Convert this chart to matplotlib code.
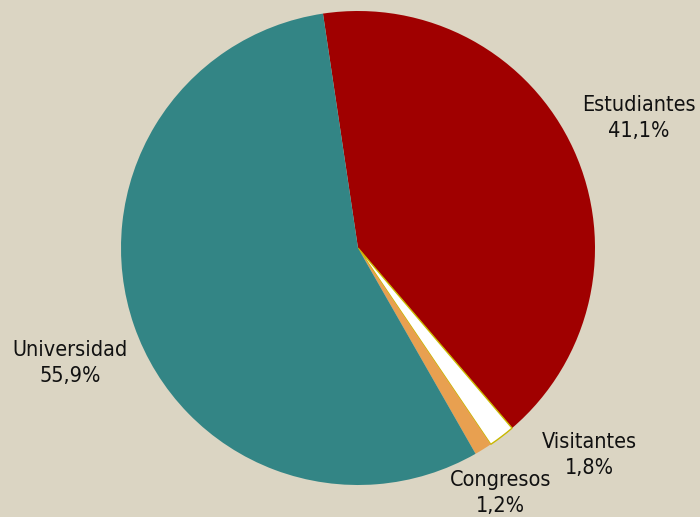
import numpy as np
import matplotlib.pyplot as plt

# --- datos ---
categorias = ['Estudiantes', 'Visitantes', 'Congresos', 'Universidad']
porcentajes = [41.1, 1.8, 1.2, 55.9]
colores = ['#A00000', '#FFFFFF', '#E8A050', '#338585']
etiquetas = ['Estudiantes\n41,1%', 'Visitantes\n1,8%', 'Congresos\n1,2%', 'Universidad\n55,9%']
# posición de cada etiqueta (en radios del pastel)
pos_etiquetas = [(1.186, 0.549), (0.975, -0.873), (0.603, -1.034), (-1.215, -0.485)]

BG = '#DBD5C3'
W, H = 700, 517
cx, cy, R = 358, 248, 237

fig = plt.figure(figsize=(W / 100, H / 100), dpi=100, facecolor=BG)
ax = fig.add_axes([0, 0, 1, 1])
ax.set_facecolor(BG)

wedges, _ = ax.pie(porcentajes, colors=colores, startangle=98.5, counterclock=False,
                   radius=1, center=(0, 0), wedgeprops=dict(linewidth=0))
# borde fino del sector blanco
wedges[1].set_edgecolor('#C8B800')
wedges[1].set_linewidth(1.0)

for txt, (x, y) in zip(etiquetas, pos_etiquetas):
    ax.text(x, y, txt, ha='center', va='center', fontsize=15.5, color='#111111',
            linespacing=1.4, family='DejaVu Sans', stretch='condensed')

ax.set_xlim(-cx / R, (W - cx) / R)
ax.set_ylim(-(H - cy) / R, cy / R)
ax.set_aspect('equal', adjustable='box')
ax.axis('off')

fig.savefig('out.png', dpi=100, facecolor=BG)
